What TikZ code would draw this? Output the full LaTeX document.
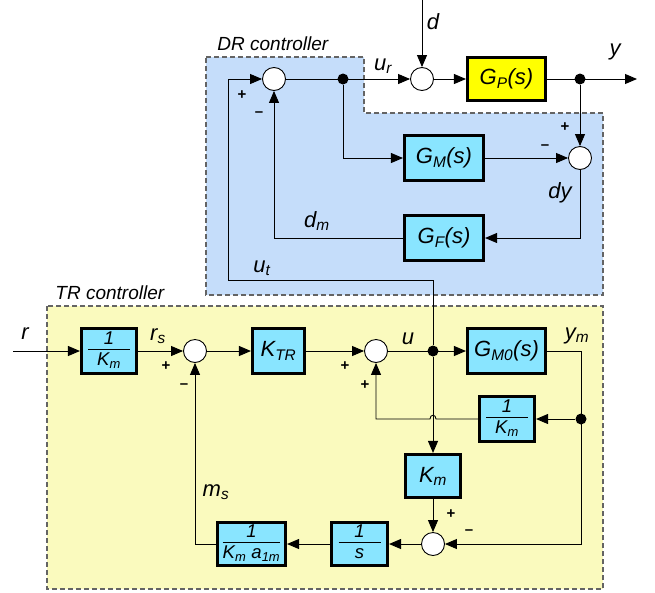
\documentclass[tikz,border=0pt]{standalone}
\usepackage{fontspec}
\setmainfont{Liberation Sans}
\usetikzlibrary{arrows.meta}
\definecolor{drblue}{RGB}{197,221,250}
\definecolor{tryel}{RGB}{250,250,190}
\definecolor{boxcyan}{RGB}{137,229,255}
\definecolor{gpyel}{RGB}{255,255,0}
\definecolor{dashgray}{RGB}{100,100,100}
\newcommand{\frc}[2]{{\renewcommand{\arraystretch}{0.8}\setlength{\arrayrulewidth}{0.8pt}\begin{tabular}{@{}c@{}}\makebox[42pt]{#1}\\\hline\rule{0pt}{16pt}#2\end{tabular}}}
\begin{document}
\begin{tikzpicture}[x=1pt,y=-1pt,line width=0.9pt,
  >={Triangle[length=12pt,width=10pt]},
  blk/.style={draw,line width=2.6pt,fill=boxcyan,inner sep=0pt,font=\itshape\fontsize{22}{24}\selectfont},
  fblk/.style={blk,font=\itshape\fontsize{18.5}{20}\selectfont},
  sumc/.style={circle,draw,fill=white,minimum size=23pt,inner sep=0pt,line width=0.9pt},
  dotn/.style={circle,fill=black,minimum size=11pt,inner sep=0pt},
  lbl/.style={font=\itshape\fontsize{22}{24}\selectfont,inner sep=0pt},
  sgn/.style={font=\bfseries\fontsize{15}{16}\selectfont,inner sep=0pt},
  ctl/.style={font=\itshape\fontsize{19}{21}\selectfont,inner sep=0pt,anchor=west},
  region/.style={draw=dashgray,line width=1.1pt,dash pattern=on 5pt off 3pt}]
\useasboundingbox (0,0) rectangle (655,592);
% regions
\path[region,fill=drblue] (206,57) -- (364,57) -- (364,113) -- (603,113) -- (603,295) -- (206,295) -- cycle;
\path[region,fill=tryel] (47,306) rectangle (603,589);
\node[ctl] (drl) at (217,44) {DR controller};
\node[ctl] (trl) at (55,293) {TR controller};
% DR nodes
\node[sumc] (s1) at (274,79) {};
\node[sumc] (s2) at (422,79) {};
\node[blk,fill=gpyel,minimum width=78.5pt,minimum height=43.5pt] (gp) at (506.5,79) {G\textsubscript{P}(s)};
\node[dotn] (d1) at (343,79) {};
\node[dotn] (d2) at (580,79) {};
\node[sumc] (s3) at (580,158) {};
\node[blk,minimum width=79.5pt,minimum height=44.5pt] (gm) at (444,158) {G\textsubscript{M}(s)};
\node[blk,minimum width=79.5pt,minimum height=44.5pt] (gf) at (444,238) {G\textsubscript{F}(s)};
\coordinate (dtop) at (422,0);
\coordinate (yout) at (637,79);
\coordinate (ut1) at (433,280);
\coordinate (ut2) at (228,280);
\coordinate (ut3) at (228,79);
% TR nodes
\coordinate (rin) at (13,351);
\node[fblk,minimum width=55.5pt,minimum height=44.5pt] (k1) at (109,351) {\frc{1}{K\textsubscript{m}}};
\node[sumc] (sa) at (195,351) {};
\node[blk,minimum width=52.5pt,minimum height=44.5pt] (ktr) at (278.5,351) {K\textsubscript{TR}};
\node[sumc] (sb) at (376,351) {};
\node[dotn] (du) at (433,351) {};
\node[blk,minimum width=78.5pt,minimum height=44.5pt] (gm0) at (506.5,351) {G\textsubscript{M0}(s)};
\coordinate (c1) at (581,351);
\node[dotn] (dym) at (581,419) {};
\coordinate (c2) at (581,544);
\node[fblk,minimum width=55.5pt,minimum height=44.5pt] (k2) at (507,419) {\frc{1}{K\textsubscript{m}}};
\node[blk,minimum width=55.5pt,minimum height=43.5pt] (km) at (433,476) {K\textsubscript{m}};
\node[sumc] (sc) at (433,544) {};
\node[fblk,minimum width=56.5pt,minimum height=43.5pt] (is) at (359.5,544) {\frc{1}{s}};
\node[fblk,minimum width=68.5pt,minimum height=43.5pt] (ika) at (251.5,544) {\frc{1}{K\textsubscript{m} a\textsubscript{1m}}};
\coordinate (h1) at (436,419);
\coordinate (h2) at (430,419);
\coordinate (fb) at (376,419);
% DR connectors
\draw[->] (dtop) -- (s2);
\draw[->] (s1) -- (s2);
\draw[->] (s2) -- (gp);
\draw[->] (gp) -- (yout);
\draw[->] (d2) -- (s3);
\draw[->] (d1) |- (gm);
\draw[->] (gm) -- (s3);
\draw[->] (s3) |- (gf);
\draw[->] (gf) -| (s1);
\draw[->] (du) -- (ut1) -- (ut2) -- (ut3) -- (s1);
% TR connectors
\draw[->] (rin) -- (k1);
\draw[->] (k1) -- (sa);
\draw[->] (sa) -- (ktr);
\draw[->] (ktr) -- (sb);
\draw[->] (sb) -- (gm0);
\draw[->] (gm0.east) -- (c1) -- (c2) -- (sc);
\draw[->] (dym) -- (k2);
\draw[->] (k2.west) -- (h1) .. controls (436,414) and (430,414) .. (h2) -- (fb) -- (sb);
\draw[->] (du) -- (km);
\draw[->] (km) -- (sc);
\draw[->] (sc) -- (is);
\draw[->] (is) -- (ika);
\draw[->] (ika.west) -| (sa);
% labels
\node[lbl] (ld) at (433,22) {d};
\node[lbl] (lur) at (383,66) {u\textsubscript{r}};
\node[lbl] (ly) at (615,52) {y};
\node[lbl] (ldy) at (560,193) {dy};
\node[lbl] (ldm) at (317,221) {d\textsubscript{m}};
\node[lbl] (lut) at (262,268) {u\textsubscript{t}};
\node[sgn] (p1) at (242,95) {+};
\node[sgn] (m1) at (259,114) {--};
\node[sgn] (p2) at (565,127) {+};
\node[sgn] (m2) at (545,147) {--};
\node[lbl] (lr) at (25,334) {r};
\node[lbl] (lrs) at (158,336) {r\textsubscript{s}};
\node[sgn] (p3) at (166,366) {+};
\node[sgn] (m3) at (184,386) {--};
\node[sgn] (p4) at (345,366) {+};
\node[sgn] (p5) at (365,385) {+};
\node[lbl] (lu) at (408,339) {u};
\node[lbl] (lym) at (577,336) {y\textsubscript{m}};
\node[sgn] (p6) at (451,514) {+};
\node[sgn] (m6) at (469,532) {--};
\node[lbl] (lms) at (216,492) {m\textsubscript{s}};
\end{tikzpicture}
\end{document}
